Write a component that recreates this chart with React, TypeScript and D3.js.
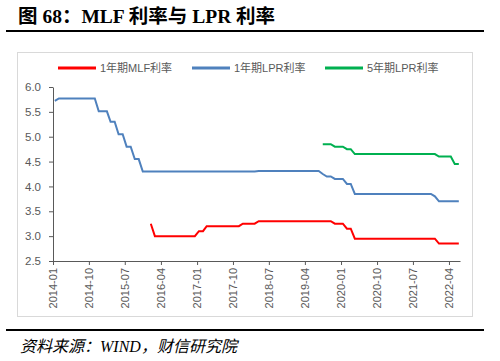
import React, { useEffect, useRef } from 'react';
import * as d3 from 'd3';

// x axis tick labels (every 9 months)
const xTickLabels = [
  '2014-01', '2014-10', '2015-07', '2016-04', '2017-01', '2017-10',
  '2018-07', '2019-04', '2020-01', '2020-10', '2021-07', '2022-04',
];
const yTicks = [2.5, 3.0, 3.5, 4.0, 4.5, 5.0, 5.5, 6.0];

const seriesNames = ['1年期MLF利率', '1年期LPR利率', '5年期LPR利率'];
const seriesColors = ['#FF0000', '#4F81BD', '#00B050'];

// monthly values, first month given by *Start
const mlfStart = '2016-01';
const mlf1y = [
  3.25,
  3.0, 3.0, 3.0, 3.0, 3.0, 3.0, 3.0, 3.0, 3.0, 3.0, 3.0,
  3.1, 3.1,
  3.2, 3.2, 3.2, 3.2, 3.2, 3.2, 3.2, 3.2, 3.2,
  3.25, 3.25, 3.25, 3.25,
  3.3, 3.3, 3.3, 3.3, 3.3, 3.3, 3.3, 3.3, 3.3, 3.3, 3.3, 3.3, 3.3, 3.3, 3.3, 3.3, 3.3, 3.3, 3.3,
  3.25, 3.25, 3.25,
  3.15, 3.15,
  2.95, 2.95, 2.95, 2.95, 2.95, 2.95, 2.95, 2.95, 2.95, 2.95, 2.95, 2.95, 2.95, 2.95, 2.95, 2.95,
  2.95, 2.95, 2.95, 2.95, 2.95,
  2.85, 2.85, 2.85, 2.85, 2.85, 2.85,
];

const lpr1yStart = '2014-01';
const lpr1y = [
  5.72,
  5.77, 5.77, 5.77, 5.77, 5.77, 5.77, 5.77, 5.77, 5.77, 5.77,
  5.51, 5.51, 5.51,
  5.3, 5.3,
  5.05, 5.05,
  4.8, 4.8,
  4.55, 4.55,
  4.3, 4.3, 4.3, 4.3, 4.3, 4.3, 4.3, 4.3, 4.3, 4.3, 4.3, 4.3, 4.3, 4.3, 4.3, 4.3, 4.3, 4.3, 4.3,
  4.3, 4.3, 4.3, 4.3, 4.3, 4.3, 4.3, 4.3, 4.3, 4.3,
  4.31, 4.31, 4.31, 4.31, 4.31, 4.31, 4.31, 4.31, 4.31, 4.31, 4.31, 4.31, 4.31, 4.31, 4.31, 4.31,
  4.25,
  4.2, 4.2,
  4.15, 4.15, 4.15,
  4.05, 4.05,
  3.85, 3.85, 3.85, 3.85, 3.85, 3.85, 3.85, 3.85, 3.85, 3.85, 3.85, 3.85, 3.85, 3.85, 3.85, 3.85,
  3.85, 3.85, 3.85, 3.85,
  3.8,
  3.7, 3.7, 3.7, 3.7, 3.7, 3.7,
];

const lpr5yStart = '2019-08';
const lpr5y = [
  4.85, 4.85, 4.85,
  4.8, 4.8, 4.8,
  4.75, 4.75,
  4.65, 4.65, 4.65, 4.65, 4.65, 4.65, 4.65, 4.65, 4.65, 4.65, 4.65, 4.65, 4.65, 4.65, 4.65, 4.65,
  4.65, 4.65, 4.65, 4.65, 4.65,
  4.6, 4.6, 4.6, 4.6,
  4.45, 4.45,
];

const parseMonth = d3.timeParse('%Y-%m');

// turn a start month + monthly values into points (mid-month)
const toPoints = (start: string, values: number[]) => {
  const s = parseMonth(start) as Date;
  return values.map((v, i) => ({
    date: new Date(s.getFullYear(), s.getMonth() + i, 15),
    value: v,
  }));
};

const App = () => {
  const svgRef = useRef<SVGSVGElement>(null);

  useEffect(() => {
    const svg = d3.select(svgRef.current);
    svg.selectAll('*').remove();

    const font = '"Liberation Sans", "Noto Sans CJK SC", sans-serif';

    // title
    svg.append('text')
      .attr('x', 18).attr('y', 23)
      .attr('font-family', '"Liberation Serif", "Noto Sans CJK SC", serif')
      .attr('font-weight', 'bold')
      .attr('font-size', 19.5)
      .attr('fill', '#000')
      .text('图 68：MLF 利率与 LPR 利率');

    svg.append('line')
      .attr('x1', 6).attr('x2', 484).attr('y1', 31).attr('y2', 31)
      .attr('stroke', '#000').attr('stroke-width', 2);

    // chart frame
    svg.append('rect')
      .attr('x', 17.5).attr('y', 52.5).attr('width', 455).attr('height', 264)
      .attr('fill', '#fff').attr('stroke', '#D9D9D9');

    const x = d3.scaleTime()
      .domain([new Date(2014, 0, 1), new Date(2022, 5, 24)])
      .range([53, 460]);
    const y = d3.scaleLinear().domain([2.5, 6.0]).range([261, 87]);

    // y axis
    const yAxis = svg.append('g')
      .attr('transform', 'translate(53,0)')
      .call(d3.axisLeft(y).tickValues(yTicks).tickFormat(d3.format('.1f')).tickSize(4).tickSizeOuter(0).tickPadding(8));
    yAxis.selectAll('path, line').attr('stroke', '#595959');
    yAxis.selectAll('text')
      .attr('font-family', font).attr('font-size', 11.5).attr('fill', '#595959');

    // x axis
    const xAxis = svg.append('g')
      .attr('transform', 'translate(0,261)')
      .call(d3.axisBottom(x)
        .tickValues(xTickLabels.map(l => parseMonth(l) as Date))
        .tickFormat(d3.timeFormat('%Y-%m') as any)
        .tickSize(4).tickSizeOuter(0));
    xAxis.selectAll('path, line').attr('stroke', '#595959');
    xAxis.selectAll('text')
      .attr('font-family', font).attr('font-size', 11).attr('fill', '#595959')
      .attr('text-anchor', 'end')
      .attr('transform', 'rotate(-90)')
      .attr('x', -7).attr('y', 0).attr('dy', '0.35em');

    // lines
    const line = d3.line<{ date: Date; value: number }>()
      .x(d => x(d.date))
      .y(d => y(d.value));

    const series = [
      toPoints(mlfStart, mlf1y),
      toPoints(lpr1yStart, lpr1y),
      toPoints(lpr5yStart, lpr5y),
    ];
    series.forEach((pts, i) => {
      svg.append('path')
        .datum(pts)
        .attr('fill', 'none')
        .attr('stroke', seriesColors[i])
        .attr('stroke-width', 2)
        .attr('d', line);
    });

    // legend
    const legendX = [58, 192, 325];
    seriesNames.forEach((name, i) => {
      svg.append('line')
        .attr('x1', legendX[i]).attr('x2', legendX[i] + 38)
        .attr('y1', 68).attr('y2', 68)
        .attr('stroke', seriesColors[i]).attr('stroke-width', 3);
      svg.append('text')
        .attr('x', legendX[i] + 42).attr('y', 72)
        .attr('font-family', font).attr('font-size', 11).attr('fill', '#595959')
        .text(name);
    });

    // footer
    svg.append('line')
      .attr('x1', 6).attr('x2', 484).attr('y1', 330).attr('y2', 330)
      .attr('stroke', '#000').attr('stroke-width', 2);
    svg.append('text')
      .attr('x', 20).attr('y', 352)
      .attr('font-family', '"Liberation Serif", "Noto Sans CJK SC", serif')
      .attr('font-style', 'italic')
      .attr('font-size', 16)
      .attr('fill', '#000')
      .text('资料来源：WIND，财信研究院');
  }, []);

  return (
    <svg ref={svgRef} width={500} height={361}
      style={{ position: 'absolute', left: 0, top: 0, background: '#fff' }} />
  );
};

export default App;
